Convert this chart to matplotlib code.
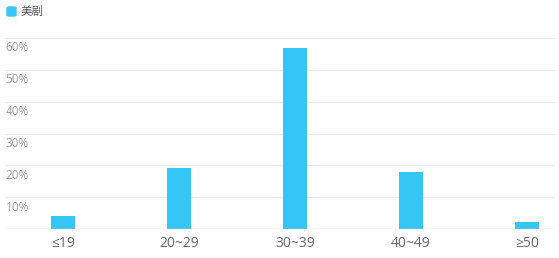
import matplotlib
matplotlib.use("Agg")
import matplotlib.pyplot as plt
from matplotlib.patches import FancyBboxPatch

plt.rcParams['font.family'] = ['Noto Sans CJK SC', 'DejaVu Sans']

categories = ['≤19', '20~29', '30~39', '40~49', '≥50']
values = [4.1, 19.1, 57.0, 18.0, 2.1]
yticks = [10, 20, 30, 40, 50, 60]
ytick_labels = ['10%', '20%', '30%', '40%', '50%', '60%']
series_name = '美剧'

W, H = 559, 258
fig = plt.figure(figsize=(W / 100, H / 100), dpi=100)
fig.patch.set_facecolor('white')

left, right, top, bottom = 5, 555, 38, 229
ax = fig.add_axes([left / W, (H - bottom) / H, (right - left) / W, (bottom - top) / H])
ax.set_facecolor('white')

bar_color = '#35C6F6'
x = list(range(len(categories)))
ax.bar(x, values, width=0.207, color=bar_color, zorder=3)

ax.set_ylim(0, 60)
ax.set_xlim(-0.5, 4.241)

for s in ax.spines.values():
    s.set_visible(False)
for yt in yticks:
    ax.axhline(yt, color='#ebebeb', lw=0.9, zorder=1)
ax.axhline(0, color='#cccccc', lw=1.0, zorder=4)

ax.set_yticks([])
ax.set_xticks(x)
ax.set_xticklabels(categories, fontsize=10, color='#666666',
                   family=['Open Sans', 'DejaVu Sans'])
ax.tick_params(axis='x', length=0, pad=5)

for yt, lab in zip(yticks, ytick_labels):
    ax.annotate(lab, xy=(0, yt), xycoords=('axes fraction', 'data'),
                xytext=(0.3, -2.5), textcoords='offset points',
                ha='left', va='top', fontsize=8.5, color='#999999',
                family=['Open Sans', 'DejaVu Sans'])

# legend
sq = FancyBboxPatch((7 / W, (H - 16) / H), 9 / W, 9 / H,
                    boxstyle='round,pad=0,rounding_size=0.004',
                    transform=fig.transFigure, color=bar_color, clip_on=False)
fig.patches.append(sq)
fig.text(21 / W, (H - 11) / H, series_name, fontsize=8.3, color='#555555',
         ha='left', va='center')

fig.savefig('out.png', dpi=100, facecolor='white')
